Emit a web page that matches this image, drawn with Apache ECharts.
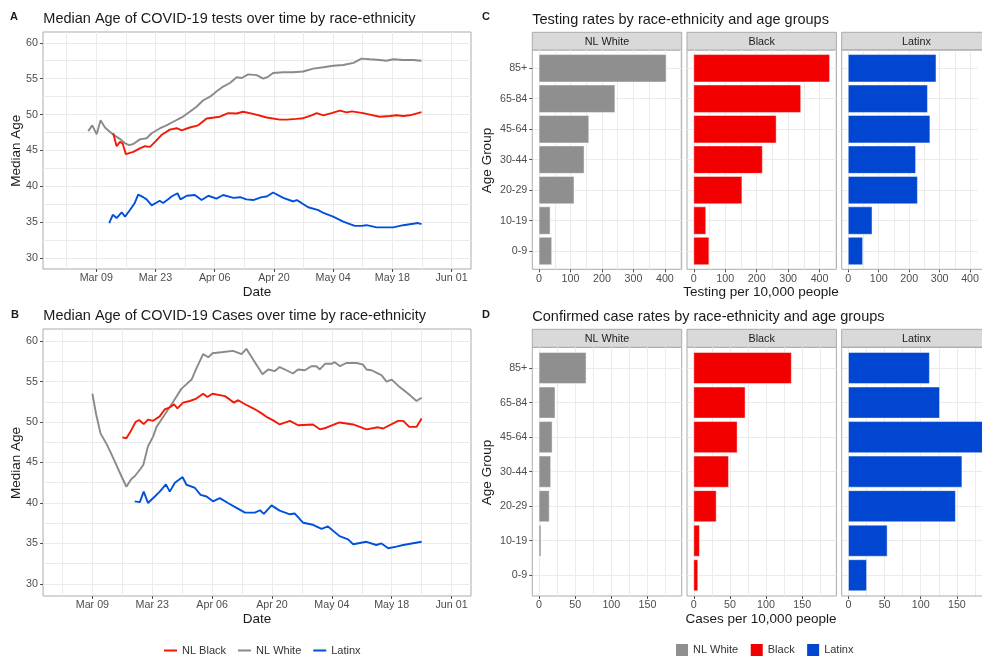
<!DOCTYPE html>
<html><head><meta charset="utf-8">
<script src="https://cdn.jsdelivr.net/npm/echarts@6/dist/echarts.min.js"></script>
<style>html,body{margin:0;padding:0;background:#fff}#c{width:982px;height:659px}</style>
</head><body><div id="c"></div>
<script>
// ---------- DATA ----------
// Days counted from Mar 09 (day 0)
const dateTickDays = [0, 14, 28, 42, 56, 70, 84];
const dateTickLabels = ['Mar 09', 'Mar 23', 'Apr 06', 'Apr 20', 'May 04', 'May 18', 'Jun 01'];
const dateGridDays = [-7, 0, 7, 14, 21, 28, 35, 42, 49, 56, 63, 70, 77, 84];
const ageTicks = [30, 35, 40, 45, 50, 55, 60];
const ageGrid = [30, 32.5, 35, 37.5, 40, 42.5, 45, 47.5, 50, 52.5, 55, 57.5, 60];

// Panel A: median age of tests
const testsWhite = [[-1.9,47.7],[-0.95,48.5],[0.1,47.25],[1.0,49.2],[2.05,48.2],[3.6,47.4],[4.8,46.9],[5.75,46.55],[6.8,46.0],[7.8,45.75],[8.75,45.9],[10.3,46.55],[11.9,46.7],[13.1,47.4],[15.1,48.1],[16.6,48.5],[18.2,49.0],[20.2,49.6],[22.1,50.4],[23.7,51.1],[25.3,52.0],[26.9,52.5],[28.4,53.2],[30.0,53.9],[31.6,54.4],[33.2,55.2],[34.4,55.1],[35.9,55.6],[37.9,55.5],[39.5,55.0],[40.7,55.3],[41.8,55.8],[44.2,55.9],[46.5,55.9],[48.9,56.0],[51.3,56.4],[53.7,56.6],[56.0,56.8],[58.4,56.9],[60.8,57.2],[62.7,57.8],[64.7,57.7],[67.1,57.6],[68.6,57.5],[70.2,57.7],[72.6,57.6],[74.9,57.6],[76.9,57.5]];
const testsBlack = [[4.0,47.4],[4.8,45.6],[5.6,46.2],[6.2,46.0],[7.0,44.5],[8.75,44.8],[10.3,45.3],[11.5,45.6],[12.7,45.5],[13.9,46.2],[15.4,47.15],[17.4,47.9],[19.0,48.1],[20.2,47.8],[22.1,48.2],[24.1,48.5],[26.1,49.45],[29.2,49.7],[31.2,50.2],[33.2,50.15],[34.7,50.4],[37.1,50.1],[40.3,49.6],[43.4,49.3],[45.0,49.3],[47.3,49.4],[48.9,49.5],[50.9,49.9],[52.1,50.2],[53.7,49.9],[55.6,50.2],[57.6,50.55],[59.2,50.3],[60.4,50.45],[63.1,50.2],[64.7,50.0],[67.0,49.7],[69.4,49.8],[71.0,49.9],[72.6,49.8],[74.1,49.9],[76.9,50.35]];
const testsLatinx = [[3.05,34.9],[3.9,36.05],[4.8,35.6],[6.0,36.4],[6.8,35.8],[8.0,36.75],[9.1,37.7],[9.9,38.85],[11.1,38.5],[11.9,38.2],[13.1,37.35],[15.0,38.0],[15.8,37.7],[17.0,38.2],[17.8,38.6],[19.2,39.05],[19.9,38.2],[21.4,38.7],[23.3,38.8],[24.9,38.1],[26.5,38.7],[28.4,38.3],[30.0,38.8],[32.4,38.4],[34.0,38.5],[35.5,38.2],[37.1,38.1],[39.1,38.5],[40.3,38.6],[41.8,39.15],[44.2,38.4],[46.6,37.9],[47.4,38.1],[48.5,37.7],[50.1,37.1],[52.5,36.7],[53.7,36.3],[56.0,35.8],[58.4,35.1],[61.1,34.5],[62.7,34.5],[63.9,34.6],[66.3,34.3],[69.4,34.3],[70.2,34.3],[72.6,34.6],[74.9,34.8],[76.1,34.9],[76.9,34.75]];

// Panel B: median age of cases
const casesWhite = [[0,53.5],[0.9,50.9],[1.9,48.6],[3.3,47.3],[4.4,46.1],[5.6,44.7],[6.8,43.3],[7.95,42.0],[9.1,42.95],[9.9,43.3],[11.1,44.1],[11.9,44.7],[13.0,47.0],[14.2,48.2],[15.0,49.4],[16.9,50.9],[18.9,52.5],[20.8,54.1],[23.2,55.25],[24.3,56.6],[25.9,58.4],[27.1,58.0],[28.1,58.5],[30.6,58.65],[32.9,58.8],[34.9,58.4],[36.0,59.05],[38.0,57.4],[39.8,55.9],[41.1,56.5],[42.7,56.3],[43.8,56.8],[45.4,56.4],[46.9,56.0],[48.1,56.5],[49.7,56.4],[51.2,56.9],[52.4,56.9],[53.2,56.5],[54.4,57.2],[55.9,57.2],[56.7,57.4],[57.9,56.9],[59.4,57.3],[61.8,57.3],[63.3,57.1],[64.1,56.5],[65.3,56.4],[66.4,56.1],[67.6,55.8],[68.8,55.0],[70.0,55.25],[71.5,54.5],[72.7,54.0],[74.3,53.3],[75.8,52.6],[77.0,53.0]];
const casesBlack = [[7.0,48.1],[7.95,48.0],[9.1,49.0],[10.1,50.0],[10.9,50.25],[12.0,49.75],[13.0,50.3],[14.2,50.15],[15.75,50.7],[16.9,51.55],[18.1,51.8],[19.1,52.2],[19.9,51.7],[21.2,52.4],[22.8,52.6],[24.3,52.9],[25.9,53.5],[26.9,53.1],[28.1,53.5],[31.0,53.2],[32.1,52.8],[33.1,52.4],[34.1,52.7],[35.7,52.2],[37.6,51.7],[39.5,51.1],[40.7,50.65],[42.3,50.2],[43.8,49.7],[46.2,50.15],[48.1,49.6],[51.6,49.7],[53.2,49.1],[54.7,49.3],[57.8,49.95],[61.0,49.7],[64.1,49.1],[66.8,49.35],[68.0,49.2],[71.5,50.15],[72.7,50.15],[74.1,49.4],[75.8,49.4],[77.0,50.45]];
const casesLatinx = [[9.9,40.2],[11.1,40.1],[12.0,41.4],[13.0,40.0],[14.6,40.8],[15.75,41.4],[17.2,42.3],[18.1,41.4],[19.3,42.5],[21.1,43.2],[22.0,42.25],[24.0,41.85],[25.3,41.0],[26.7,40.8],[28.2,40.2],[29.8,40.6],[31.7,40.0],[33.7,39.4],[35.7,38.8],[38.0,38.8],[39.2,39.1],[40.1,38.65],[41.9,39.7],[43.8,39.05],[46.2,38.6],[47.3,38.7],[49.3,37.55],[51.6,37.3],[53.6,36.8],[55.1,37.1],[57.8,35.9],[59.8,35.5],[61.0,34.9],[64.1,35.2],[66.4,34.8],[67.6,35.0],[69.2,34.4],[71.1,34.6],[72.7,34.8],[77.0,35.2]];

// Panels C and D: rates by age group (bottom to top)
const ageGroups = ['0-9', '10-19', '20-29', '30-44', '45-64', '65-84', '85+'];
const facetNames = ['NL White', 'Black', 'Latinx'];
const testingWhite = [40, 35, 111, 143, 158, 241, 404];
const testingBlack = [48, 38, 153, 218, 262, 340, 432];
const testingLatinx = [47, 78, 227, 221, 268, 260, 288];
const casesRateWhite = [0.5, 2.5, 14, 16, 18, 22, 65];
const casesRateBlack = [5.5, 7.8, 31, 48, 60, 71, 135];
const casesRateLatinx = [25, 53.5, 148, 157, 188, 126, 112];
const testingTicks = [0, 100, 200, 300, 400];
const testingGrid = [0, 50, 100, 150, 200, 250, 300, 350, 400, 450];
const casesTicks = [0, 50, 100, 150];
const casesGrid = [0, 25, 50, 75, 100, 125, 150, 175];

// ---------- STYLE ----------
const FONT = '"Liberation Sans", Arial, Helvetica, sans-serif';
const TICKC = '#4d4d4d', GRIDC = '#ebebeb', BORDER = '#ababab', TXT = '#1a1a1a';
const lineColors = { 'NL Black': '#f21a05', 'NL White': '#8a8a8a', 'Latinx': '#0050dc' };
const barColors = { 'NL White': '#8f8f8f', 'Black': '#f20000', 'Latinx': '#0046d0' };
const CANVAS_W = 982;

const grids = [], xAxis = [], yAxis = [], series = [];
const gfx = [];

function panel(rect, x, y, noBorder) {
  const g = grids.length;
  grids.push({ left: rect[0], top: rect[1], width: rect[2], height: rect[3], show: true,
    backgroundColor: '#fff', borderColor: noBorder ? 'rgba(0,0,0,0)' : BORDER, borderWidth: noBorder ? 0 : 1 });
  const mk = (c, pos, isX) => [
    { type: 'value', gridIndex: g, position: pos, min: c.min, max: c.max,
      axisLine: { show: false, onZero: false }, axisTick: { show: false, customValues: c.grid },
      axisLabel: { show: false }, splitLine: { show: true, lineStyle: { color: GRIDC, width: 1 } } },
    { type: 'value', gridIndex: g, position: pos, min: c.min, max: c.max,
      axisLine: { show: false, onZero: false },
      axisTick: { show: c.show !== false, length: 3, customValues: c.ticks, lineStyle: { color: TICKC, width: 1 } },
      axisLabel: { show: c.show !== false, customValues: c.ticks, formatter: c.fmt, color: TICKC,
        fontSize: 10.7, fontFamily: FONT, margin: isX ? 4 : 5 },
      splitLine: { show: false } }
  ];
  xAxis.push(...mk(x, 'bottom', true));
  yAxis.push(...mk(y, 'left', false));
  return g;
}

const dateFmt = v => { const i = dateTickDays.indexOf(Math.round(v)); return i >= 0 ? dateTickLabels[i] : ''; };
const ageFmt = v => ageGroups[Math.round(v)] || '';
const ageAxis = { min: 28.5, max: 61.5, grid: ageGrid, ticks: ageTicks };

function lines(g, sets) {
  for (const [name, data] of sets) {
    series.push({ type: 'line', name, xAxisIndex: 2 * g, yAxisIndex: 2 * g, data,
      showSymbol: false, symbol: 'none', smooth: false,
      lineStyle: { color: lineColors[name], width: 1.9 }, itemStyle: { color: lineColors[name] },
      silent: true });
  }
}

const gA = panel([43, 32, 428, 237], { min: -12.6, max: 88.6, grid: dateGridDays, ticks: dateTickDays, fmt: dateFmt }, ageAxis);
lines(gA, [['NL White', testsWhite], ['NL Black', testsBlack], ['Latinx', testsLatinx]]);
const gB = panel([43, 329, 428, 267], { min: -11.55, max: 88.55, grid: dateGridDays, ticks: dateTickDays, fmt: dateFmt }, ageAxis);
lines(gB, [['NL White', casesWhite], ['NL Black', casesBlack], ['Latinx', casesLatinx]]);

function renderBar(color) {
  return function (params, api) {
    const v = api.value(0), i = api.value(1);
    const a = api.coord([0, i]), b = api.coord([v, i]);
    const h = api.size([0, 0.9])[1];
    return { type: 'rect', shape: { x: a[0], y: a[1] - h / 2, width: b[0] - a[0], height: h },
      style: { fill: color, stroke: 'rgba(255,255,255,0.45)', lineWidth: 1 } };
  };
}

const facetLefts = [532.3, 687, 841.7], facetW = 149.4;
function facetRow(top, height, sets, ticks, gridv) {
  const mx = Math.max(...sets.flat());
  const lo = -0.05 * mx, hi = 1.05 * mx;
  sets.forEach((vals, k) => {
    const name = facetNames[k];
    const left = facetLefts[k];
    // the last facet runs past the right edge of the picture: keep the same scale, cut at the edge
    const visW = Math.min(facetW, CANVAS_W - left);
    const cut = visW < facetW;
    const xc = { min: lo, max: lo + (hi - lo) * visW / facetW, grid: gridv, ticks };
    const g = panel([left, top, visW, height], xc,
      { min: -0.6, max: 6.6, grid: [0, 1, 2, 3, 4, 5, 6], ticks: [0, 1, 2, 3, 4, 5, 6], fmt: ageFmt, show: k === 0 }, cut);
    if (cut) {
      gfx.push({ type: 'polyline', silent: true, z: 10,
        shape: { points: [[left + facetW, top], [left, top], [left, top + height], [left + facetW, top + height]] },
        style: { stroke: BORDER, lineWidth: 1, fill: null } });
    }
    series.push({ type: 'custom', name, xAxisIndex: 2 * g, yAxisIndex: 2 * g,
      data: vals.map((v, i) => [v, i]), encode: { x: 0, y: 1 },
      renderItem: renderBar(barColors[name]), itemStyle: { color: barColors[name] }, clip: true, silent: true });
  });
}
facetRow(50, 219.3, [testingWhite, testingBlack, testingLatinx], testingTicks, testingGrid);
facetRow(347.3, 248.7, [casesRateWhite, casesRateBlack, casesRateLatinx], casesTicks, casesGrid);

// ---------- TEXT / DECORATION ----------
function txt(text, x, y, size, opts) {
  opts = opts || {};
  gfx.push({ type: 'text', x, y, rotation: opts.rot || 0, silent: true,
    style: { text, fill: opts.color || TXT, font: (opts.bold ? 'bold ' : '') + size + 'px ' + FONT,
      textAlign: opts.align || 'left', textVerticalAlign: 'middle' } });
}
txt('A', 10, 17.3, 11, { bold: true });
txt('Median Age of COVID-19 tests over time by race-ethnicity', 43.3, 18.8, 14.5);
txt('B', 11, 315.2, 11, { bold: true });
txt('Median Age of COVID-19 Cases over time by race-ethnicity', 43.3, 316.3, 14.5);
txt('C', 482, 16.5, 11, { bold: true });
txt('Testing rates by race-ethnicity and age groups', 532.3, 19.6, 14.5);
txt('D', 482, 315, 11, { bold: true });
txt('Confirmed case rates by race-ethnicity and age groups', 532.3, 316.5, 14.5);

txt('Median Age', 16.7, 150.8, 13.5, { rot: Math.PI / 2, align: 'center' });
txt('Median Age', 16.7, 463, 13.5, { rot: Math.PI / 2, align: 'center' });
txt('Age Group', 487.3, 160.5, 13.5, { rot: Math.PI / 2, align: 'center' });
txt('Age Group', 487.3, 472.5, 13.5, { rot: Math.PI / 2, align: 'center' });
txt('Date', 257, 292.7, 13.5, { align: 'center' });
txt('Date', 257, 619.7, 13.5, { align: 'center' });
txt('Testing per 10,000 people', 761, 292.7, 13.5, { align: 'center' });
txt('Cases per 10,000 people', 761, 619.7, 13.5, { align: 'center' });

[[32.3, 17.7], [329.3, 18]].forEach(([top, h]) => {
  facetLefts.forEach((l, k) => {
    gfx.push({ type: 'rect', silent: true, shape: { x: l, y: top, width: facetW, height: h },
      style: { fill: '#d9d9d9', stroke: BORDER, lineWidth: 1 } });
    txt(facetNames[k], l + facetW / 2, top + h / 2 + 0.5, 10.8, { align: 'center' });
  });
});

const chart = echarts.init(document.getElementById('c'));
chart.setOption({
  animation: false,
  backgroundColor: '#fff',
  grid: grids, xAxis, yAxis, series,
  legend: [
    { left: 164, top: 645, padding: 0, orient: 'horizontal', icon: 'rect', itemWidth: 13, itemHeight: 2, itemGap: 12,
      selectedMode: false, textStyle: { color: '#333', fontSize: 11, fontFamily: FONT },
      data: ['NL Black', 'NL White', 'Latinx'].map(n => ({ name: n, itemStyle: { color: lineColors[n] } })) },
    { left: 676, top: 644, padding: 0, orient: 'horizontal', icon: 'rect', itemWidth: 12, itemHeight: 12, itemGap: 12.5,
      selectedMode: false, textStyle: { color: '#333', fontSize: 11, fontFamily: FONT },
      data: ['NL White', 'Black', 'Latinx'].map(n => ({ name: n, itemStyle: { color: barColors[n] } })) }
  ],
  graphic: gfx
});
</script>
</body></html>
